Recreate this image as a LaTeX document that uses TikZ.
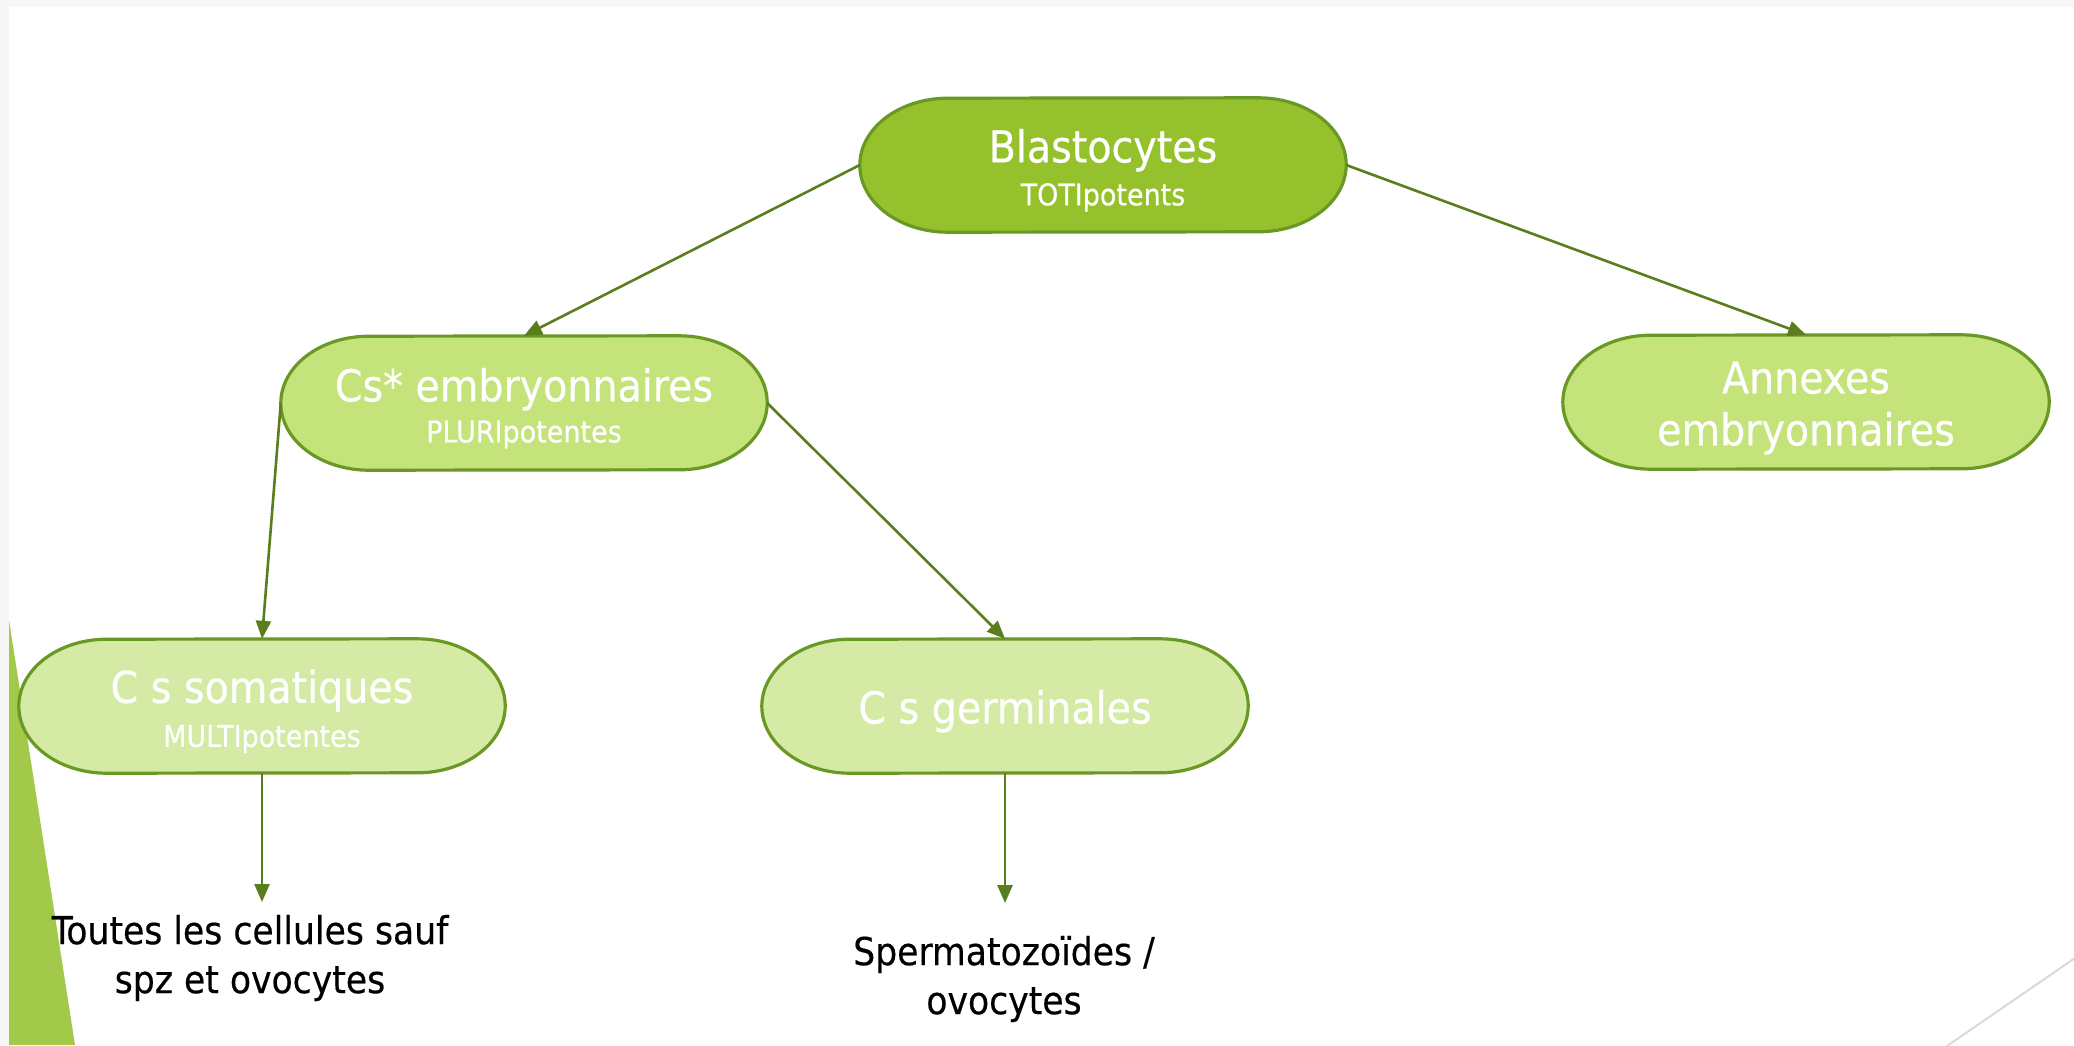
\documentclass[tikz,border=0pt]{standalone}
\usepackage{fontspec}
\setmainfont{DejaVu Sans Condensed}[FakeBold=0.4]
\usetikzlibrary{arrows.meta,calc,backgrounds}
\definecolor{lvA}{HTML}{95C22C}
\definecolor{lvB}{HTML}{C4E37B}
\definecolor{lvC}{HTML}{D5EBA5}
\definecolor{edgegreen}{HTML}{6A9824}
\definecolor{arrgreen}{HTML}{5A7E1E}
\definecolor{trigreen}{HTML}{A3C94A}
\definecolor{pageborder}{HTML}{F7F7F7}
\definecolor{cornerline}{HTML}{DADADA}
\newcommand{\fBig}{\fontsize{44}{48}\selectfont}
\newcommand{\fSub}{\fontsize{30}{34}\selectfont}
\newcommand{\fCap}{\fontsize{38.5}{49}\selectfont}
\newcommand{\dnstrut}{\rule{0pt}{44pt}}
\begin{document}
\begin{tikzpicture}[x=1pt,y=1pt,
  box/.style={rectangle, draw=none, minimum width=486pt, minimum height=134pt,
    inner sep=0pt, text=white, align=center, font=\fBig},
  conn/.style={draw=arrgreen, line width=2.6pt, -{Triangle[length=18pt,width=15pt]}},
  caption/.style={align=center, font=\fCap, text=black, inner sep=0pt}]
\useasboundingbox (0,0) rectangle (2074,-1045);

\node[box] (blast) at (1103,-165) {\dnstrut Blastocytes\\[-5pt]{\fSub TOTIpotents}};
\node[box] (emb) at (524,-403) {\dnstrut Cs* embryonnaires\\[-7pt]{\fSub PLURIpotentes}};
\node[box] (ann) at (1806,-402) {\dnstrut Annexes\\[4pt]embryonnaires};
\node[box] (som) at (262,-706) {\dnstrut C s somatiques\\[-4pt]{\fSub MULTIpotentes}};
\node[box] (germ) at (1005,-706) {\dnstrut C s germinales};
\node[caption] (t1) at (250,-958) {Toutes les cellules sauf\\spz et ovocytes};
\node[caption] (t2) at (1004,-979) {Spermatozoïdes /\\ovocytes};
\coordinate (e1) at (262,-902);
\coordinate (e2) at (1005,-903);

\draw[conn] (blast.west) -- (emb.north);
\draw[conn] (blast.east) -- (ann.north);
\draw[conn] (emb.west) -- (som.north);
\draw[conn] (emb.east) -- (germ.north);
\draw[conn] (som.south) -- (e1);
\draw[conn] (germ.south) -- (e2);

\begin{scope}[on background layer]
  \fill[pageborder] (0,0) rectangle (2074,-1045);
  \fill[white] (9,-7) rectangle (2074,-1045);
  \fill[trigreen] (9,-620) -- (75,-1045) -- (9,-1045) -- cycle;
  \draw[cornerline, line width=2pt] (1947,-1046) -- (2075,-958);
  \foreach \n/\c in {blast/lvA, emb/lvB, ann/lvB, som/lvC, germ/lvC}
    \filldraw[fill=\c, draw=edgegreen, line width=3.2pt]
      ($(\n.north east)+(-88,0)$) arc[start angle=90,end angle=-90,x radius=88pt,y radius=67pt]
      -- ($(\n.south west)+(88,0)$) arc[start angle=270,end angle=90,x radius=88pt,y radius=67pt]
      -- cycle;
\end{scope}
\end{tikzpicture}
\end{document}
